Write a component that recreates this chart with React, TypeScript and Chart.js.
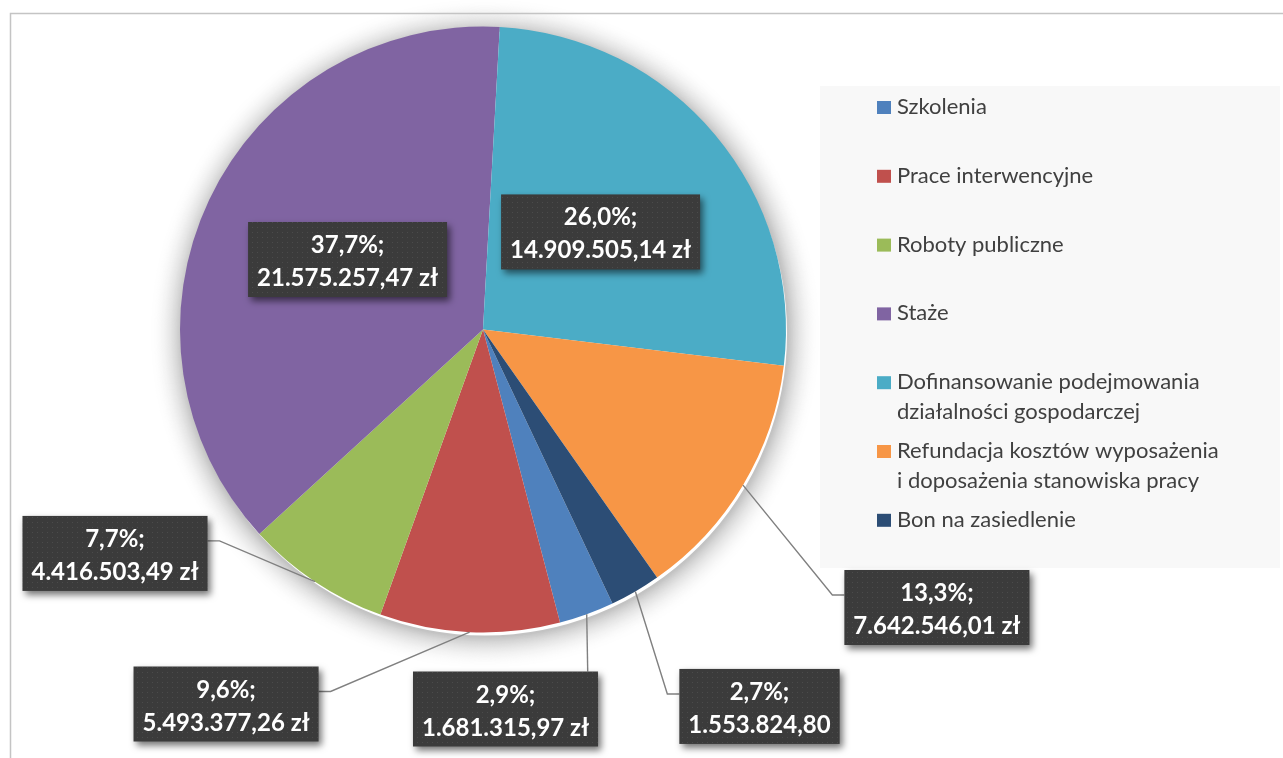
import React, { useEffect, useRef } from 'react';
import { Chart, registerables } from 'chart.js';

Chart.register(...registerables);

// ---- data ----
const categories: (string | string[])[] = [
  'Szkolenia',
  'Prace interwencyjne',
  'Roboty publiczne',
  'Staże',
  ['Dofinansowanie podejmowania', 'działalności gospodarczej'],
  ['Refundacja kosztów wyposażenia', 'i doposażenia stanowiska pracy'],
  'Bon na zasiedlenie',
];
const amounts = [1681315.97, 5493377.26, 4416503.49, 21575257.47, 14909505.14, 7642546.01, 1553824.8];
const currencySuffix = [' zł', ' zł', ' zł', ' zł', ' zł', ' zł', ''];
const colors = ['#4F81BD', '#C0504D', '#9BBB59', '#8064A2', '#4BACC6', '#F79646', '#2C4D75'];

// ---- layout (label box centres relative to pie centre, in radius units) ----
const labelOffsets: [number, number][] = [
  [0.0743, 1.2525],
  [-0.848, 1.236],
  [-1.2145, 0.739],
  [-0.447, -0.231],
  [0.388, -0.322],
  [1.498, 0.9175],
  [0.9125, 1.244],
];
const hasLeader = [true, true, true, false, false, true, true];

const total = amounts.reduce((a, b) => a + b, 0);

function fmtPL(n: number): string {
  const [i, d] = n.toFixed(2).split('.');
  return i.replace(/\B(?=(\d{3})+(?!\d))/g, '.') + ',' + d;
}
function fmtPct(n: number): string {
  return ((n / total) * 100).toFixed(1).replace('.', ',') + '%;';
}

let patternCache: CanvasPattern | null = null;
function getPattern(ctx: CanvasRenderingContext2D): CanvasPattern | string {
  if (patternCache) return patternCache;
  const c = document.createElement('canvas');
  c.width = 5;
  c.height = 5;
  const p = c.getContext('2d')!;
  p.fillStyle = '#3b3b3b';
  p.fillRect(0, 0, 5, 5);
  p.fillStyle = '#4b4b4b';
  p.fillRect(2, 2, 1, 1);
  patternCache = ctx.createPattern(c, 'repeat');
  return patternCache || '#3b3b3b';
}

function drawHalo(chart: any) {
  const ctx = chart.ctx as CanvasRenderingContext2D;
  const ca = chart.chartArea;
  const cx = (ca.left + ca.right) / 2 + 2;
  const cy = (ca.top + ca.bottom) / 2 + 4;
  const r = Math.min(ca.right - ca.left, ca.bottom - ca.top) / 2;
  ctx.save();
  for (let k = 34; k >= 0; k--) {
    const t = k / 34;
    const g = Math.round(255 - 60 * Math.pow(1 - t, 2.2));
    ctx.strokeStyle = `rgb(${g},${g},${g})`;
    ctx.lineWidth = 2;
    ctx.beginPath();
    ctx.arc(cx, cy, r + k, 0, Math.PI * 2);
    ctx.stroke();
  }
  ctx.restore();
}

const framePlugin = {
  id: 'frame',
  beforeDraw(chart: any) {
    const ctx = chart.ctx as CanvasRenderingContext2D;
    ctx.save();
    drawHalo(chart);
    ctx.strokeStyle = '#c4c4c4';
    ctx.lineWidth = 1.5;
    ctx.beginPath();
    ctx.moveTo(10.5, chart.height + 2);
    ctx.lineTo(10.5, 13.5);
    ctx.lineTo(chart.width + 2, 13.5);
    ctx.stroke();
    // legend background
    ctx.fillStyle = '#f8f8f8';
    ctx.fillRect(820, 86, 460, 482);
    ctx.restore();
  },
};

const labelsPlugin = {
  id: 'pieLabels',
  afterDatasetsDraw(chart: any) {
    const ctx = chart.ctx as CanvasRenderingContext2D;
    const meta = chart.getDatasetMeta(0);
    const font = 'bold 24px Lato, "Open Sans", sans-serif';
    meta.data.forEach((el: any, i: number) => {
      const { x, y, startAngle, endAngle, outerRadius } = el.getProps(
        ['x', 'y', 'startAngle', 'endAngle', 'outerRadius'],
        true
      );
      const R = outerRadius;
      const mid = (startAngle + endAngle) / 2;
      const ax = x + Math.cos(mid) * R;
      const ay = y + Math.sin(mid) * R;
      const line1 = fmtPct(amounts[i]);
      const line2 = fmtPL(amounts[i]) + currencySuffix[i];
      ctx.save();
      ctx.font = font;
      const tw = Math.max(ctx.measureText(line1).width, ctx.measureText(line2).width);
      const bw = tw + 18;
      const bh = 75;
      const cx = x + labelOffsets[i][0] * R;
      const cy = y + labelOffsets[i][1] * R;
      const left = cx - bw / 2;
      const top = cy - bh / 2;
      const right = left + bw;

      if (hasLeader[i]) {
        ctx.strokeStyle = '#808080';
        ctx.lineWidth = 1.4;
        ctx.beginPath();
        ctx.moveTo(ax, ay);
        if (ax >= left && ax <= right && top > ay) {
          ctx.lineTo(ax + 1, top);
        } else if (left > ax) {
          const ty = top + bh / 3;
          ctx.lineTo(left - 12, ty);
          ctx.lineTo(left, ty);
        } else {
          const ty = top + bh / 3;
          ctx.lineTo(right + 12, ty);
          ctx.lineTo(right, ty);
        }
        ctx.stroke();
      }

      ctx.shadowColor = 'rgba(0,0,0,0.55)';
      ctx.shadowBlur = 7;
      ctx.shadowOffsetX = 3;
      ctx.shadowOffsetY = 4;
      ctx.fillStyle = getPattern(ctx);
      ctx.fillRect(left, top, bw, bh);
      ctx.shadowColor = 'transparent';
      ctx.shadowBlur = 0;
      ctx.shadowOffsetX = 0;
      ctx.shadowOffsetY = 0;

      ctx.fillStyle = '#ffffff';
      ctx.textAlign = 'center';
      ctx.textBaseline = 'alphabetic';
      ctx.fillText(line1, cx, top + 31);
      ctx.fillText(line2, cx, top + 64);
      ctx.restore();
    });
  },
};

const legendPlugin = {
  id: 'customLegend',
  afterDraw(chart: any) {
    const ctx = chart.ctx as CanvasRenderingContext2D;
    ctx.save();
    ctx.font = '22px Lato, "Open Sans", sans-serif';
    ctx.textAlign = 'left';
    ctx.textBaseline = 'alphabetic';
    categories.forEach((cat, i) => {
      const base = 114 + i * 68.8;
      ctx.fillStyle = colors[i];
      ctx.fillRect(877, base - 13, 14, 13);
      ctx.fillStyle = '#404040';
      const lines = Array.isArray(cat) ? cat : [cat];
      lines.forEach((ln, j) => ctx.fillText(ln, 897, base + j * 30));
    });
    ctx.restore();
  },
};

export default function App() {
  const ref = useRef<HTMLCanvasElement | null>(null);
  useEffect(() => {
    if (!ref.current) return;
    const chart = new Chart(ref.current, {
      type: 'pie',
      data: {
        labels: categories as any,
        datasets: [
          {
            data: amounts,
            backgroundColor: colors,
            borderWidth: 0,
          },
        ],
      },
      options: {
        responsive: false,
        animation: false,
        events: [],
        rotation: 154.7,
        layout: { padding: { left: 180, right: 497, top: 26, bottom: 125 } },
        plugins: {
          legend: { display: false },
          tooltip: { enabled: false },
          title: { display: false },
        },
      },
      plugins: [framePlugin, labelsPlugin, legendPlugin],
    });
    return () => chart.destroy();
  }, []);
  return (
    <div style={{ position: 'absolute', left: 0, top: 0, width: 1283, height: 758, background: '#ffffff' }}>
      <canvas ref={ref} width={1283} height={758} style={{ display: 'block' }} />
    </div>
  );
}
